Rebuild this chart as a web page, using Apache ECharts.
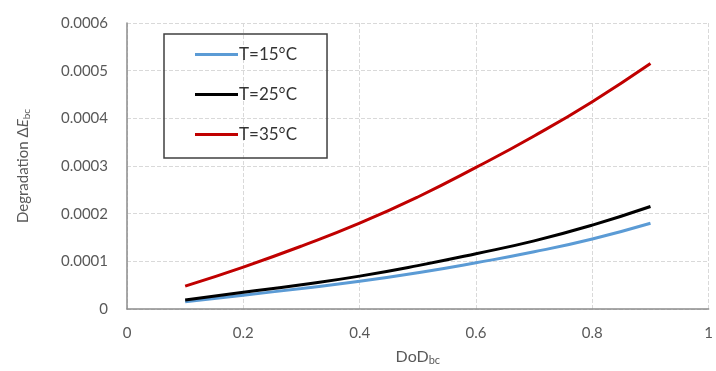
<!DOCTYPE html>
<html>
<head>
<meta charset="utf-8">
<script src="https://cdn.jsdelivr.net/npm/echarts@6/dist/echarts.min.js"></script>
<style>
  html, body { margin: 0; padding: 0; background: #fff; }
  #chart { width: 716px; height: 371px; }
</style>
</head>
<body>
<div id="chart"></div>
<script>
// DoD_bc values where each curve was sampled
var dod = [0.1, 0.2, 0.3, 0.4, 0.5, 0.6, 0.7, 0.8, 0.9];

// degradation
var t15 = [0.000015, 0.000029, 0.000043, 0.000058, 0.000076, 0.000097, 0.000120, 0.000147, 0.000180];
var t25 = [0.000019, 0.000035, 0.000051, 0.000069, 0.000091, 0.000116, 0.000143, 0.000176, 0.000215];
var t35 = [0.000048, 0.000088, 0.000132, 0.000180, 0.000235, 0.000297, 0.000363, 0.000435, 0.000515];

var seriesNames = ['T=15°C', 'T=25°C', 'T=35°C'];
var seriesColors = ['#5b9bd5', '#000000', '#c00000'];

var font = 'Lato, "Open Sans", sans-serif';

function pairs(ys) {
    var out = [];
    for (var i = 0; i < dod.length; i++) {
        out.push([dod[i], ys[i]]);
    }
    return out;
}

var myChart = echarts.init(document.getElementById('chart'));

var option = {
    animation: false,
    backgroundColor: '#fff',
    textStyle: { fontFamily: font },
    grid: { left: 127, right: 6, top: 23, bottom: 60 },
    legend: {
        orient: 'vertical',
        left: 164,
        top: 34,
        padding: [12, 30, 15, 31],
        itemGap: 23,
        icon: 'rect',
        itemWidth: 43,
        itemHeight: 3,
        borderColor: '#404040',
        borderWidth: 1.5,
        textStyle: { fontSize: 17, color: '#333', padding: [0, 0, 0, -4] },
        data: seriesNames
    },
    xAxis: {
        type: 'value',
        min: 0,
        max: 1,
        interval: 0.2,
        name: 'DoD{sub|bc}',
        nameLocation: 'middle',
        nameGap: 38,
        nameTextStyle: {
            fontSize: 16,
            color: '#595959',
            rich: { sub: { fontSize: 11, color: '#595959', padding: [8, 0, 0, 0] } }
        },
        axisLine: { show: true, lineStyle: { color: '#8c8c8c', width: 1.5 } },
        axisTick: { show: false },
        axisLabel: { fontSize: 15, color: '#595959', margin: 17 },
        splitLine: { show: true, lineStyle: { color: '#d9d9d9', type: 'dashed' } }
    },
    yAxis: {
        type: 'value',
        min: 0,
        max: 0.0006,
        interval: 0.0001,
        name: 'Degradation Δ{i|E}{sub|bc}',
        nameLocation: 'middle',
        nameGap: 95,
        nameTextStyle: {
            fontSize: 15,
            color: '#595959',
            rich: {
                i: { fontSize: 15, fontStyle: 'italic', color: '#595959' },
                sub: { fontSize: 10, color: '#595959', padding: [8, 0, 0, 0] }
            }
        },
        axisLine: { show: true, lineStyle: { color: '#8c8c8c', width: 1.5 } },
        axisTick: { show: false },
        axisLabel: {
            fontSize: 15,
            color: '#595959',
            margin: 19,
            formatter: function (v) { return v === 0 ? '0' : v.toFixed(4); }
        },
        splitLine: { show: true, lineStyle: { color: '#d9d9d9', type: 'dashed' } }
    },
    series: [t15, t25, t35].map(function (ys, i) {
        return {
            name: seriesNames[i],
            type: 'line',
            smooth: true,
            symbol: 'none',
            data: pairs(ys),
            itemStyle: { color: seriesColors[i] },
            lineStyle: { color: seriesColors[i], width: 3 }
        };
    })
};

myChart.setOption(option);
</script>
</body>
</html>
